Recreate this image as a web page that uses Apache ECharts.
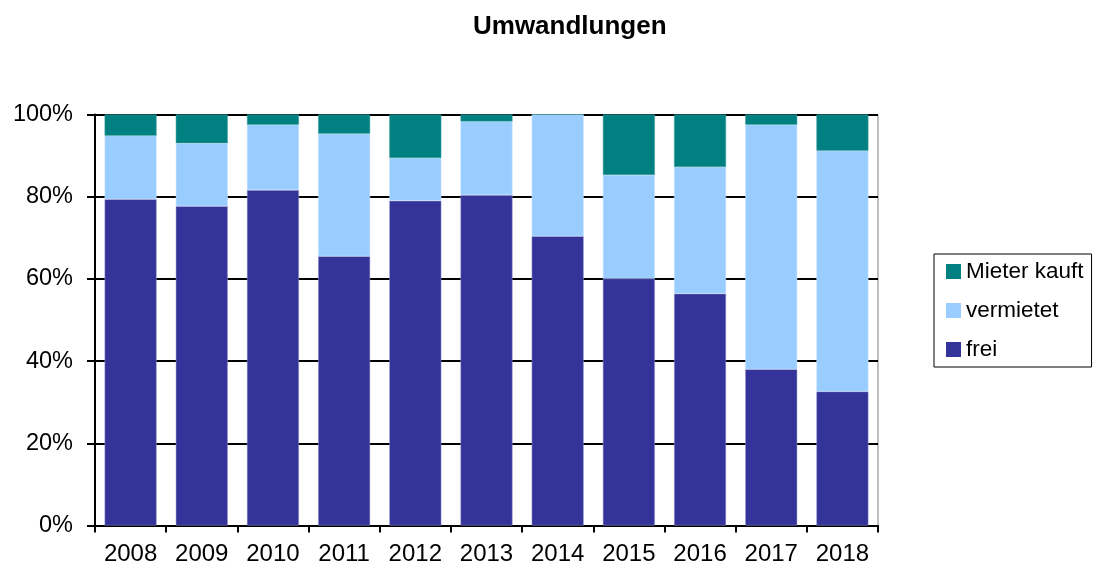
<!DOCTYPE html>
<html>
<head>
<meta charset="utf-8">
<script src="https://cdn.jsdelivr.net/npm/echarts@6/dist/echarts.min.js"></script>
<style>
html,body{margin:0;padding:0;background:#fff;}
#main{width:1093px;height:568px;}
</style>
</head>
<body>
<div id="main"></div>
<script>
// Jahre und Anteile (%)
let jahre = ['2008','2009','2010','2011','2012','2013','2014','2015','2016','2017','2018'];
let frei = [79.4, 77.7, 81.6, 65.5, 79.0, 80.4, 70.4, 60.1, 56.4, 38.0, 32.6];
let vermietet = [15.4, 15.3, 15.9, 29.8, 10.4, 17.9, 29.6, 25.2, 30.8, 59.5, 58.6];
let mieterKauft = [5.2, 7.0, 2.5, 4.7, 10.6, 1.7, 0, 14.7, 12.8, 2.5, 8.8];
let yTicks = [0, 20, 40, 60, 80, 100];

let myChart = echarts.init(document.getElementById('main'));
let schrift = 'Liberation Sans, Arial, sans-serif';
let option = {
    animation: false,
    title: {
        text: 'Umwandlungen',
        left: 468,
        top: 9,
        textStyle: {fontFamily: schrift, fontSize: 26, fontWeight: 'bold', color: '#000'}
    },
    legend: {
        orient: 'vertical',
        left: 934,
        top: 254,
        data: ['Mieter kauft', 'vermietet', 'frei'],
        itemWidth: 15,
        itemHeight: 15,
        itemGap: 16,
        padding: [6, 8, 6, 12],
        borderColor: '#000',
        borderWidth: 1,
        borderRadius: 0,
        icon: 'rect',
        itemStyle: {borderWidth: 0},
        textStyle: {fontFamily: schrift, fontSize: 22.5, color: '#000'}
    },
    grid: {
        left: 95,
        right: 215,
        top: 114.5,
        bottom: 42.5,
        show: true,
        borderColor: '#808080',
        borderWidth: 1
    },
    xAxis: {
        type: 'category',
        data: jahre,
        axisLine: {lineStyle: {color: '#000', width: 2}},
        axisTick: {show: true, length: 7, lineStyle: {color: '#000', width: 2}},
        axisLabel: {fontFamily: schrift, fontSize: 24, color: '#000', margin: 17}
    },
    yAxis: {
        type: 'value',
        min: yTicks[0],
        max: yTicks[yTicks.length - 1],
        interval: 20,
        axisLine: {show: true, lineStyle: {color: '#000', width: 2}},
        axisTick: {show: true, length: 8, lineStyle: {color: '#000', width: 2}},
        axisLabel: {fontFamily: schrift, fontSize: 23.5, color: '#000', margin: 22, formatter: '{value}%'},
        splitLine: {lineStyle: {color: '#000', width: 2}}
    },
    series: [
        {name: 'frei', type: 'bar', stack: 'a', data: frei, barCategoryGap: '27%',
            itemStyle: {color: '#333399', borderColor: '#9999cc', borderWidth: 0.5}},
        {name: 'vermietet', type: 'bar', stack: 'a', data: vermietet,
            itemStyle: {color: '#99ccff', borderColor: '#c8e4ff', borderWidth: 0.5}},
        {name: 'Mieter kauft', type: 'bar', stack: 'a', data: mieterKauft,
            itemStyle: {color: '#008080', borderColor: '#40a0a0', borderWidth: 0.5}}
    ]
};
myChart.setOption(option);
</script>
</body>
</html>
